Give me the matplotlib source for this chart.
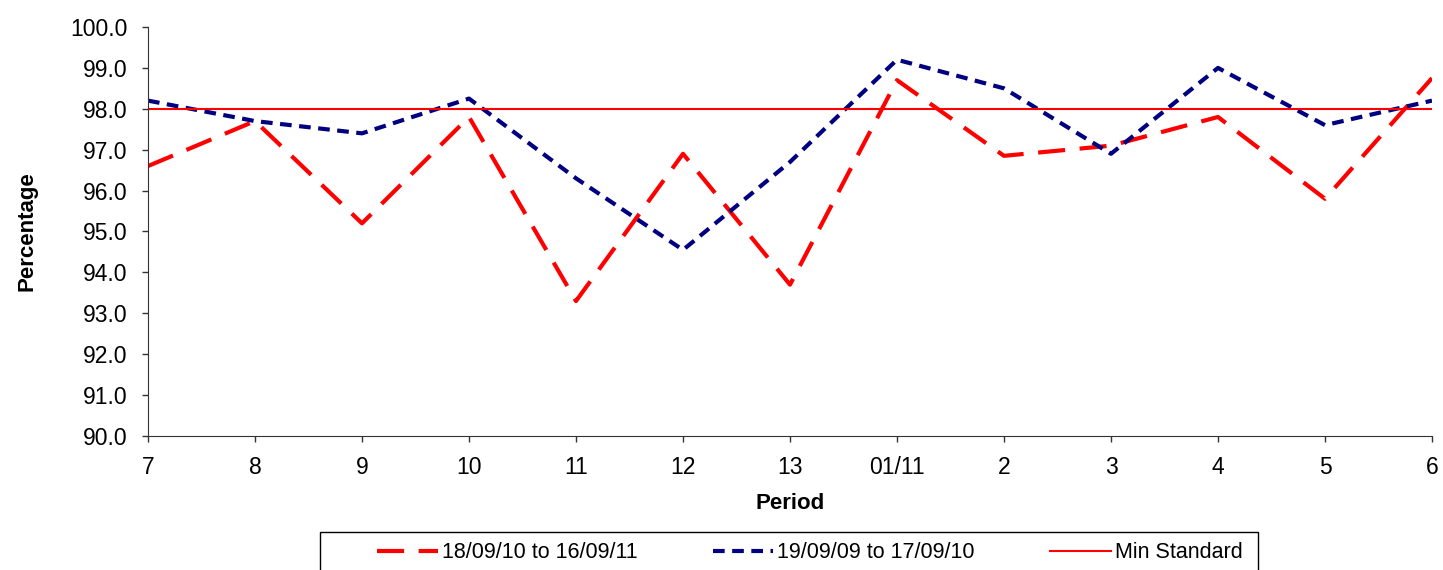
import numpy as np
import matplotlib.pyplot as plt
from matplotlib.patches import Rectangle

plt.rcParams['font.family'] = ['Liberation Sans', 'DejaVu Sans']

# Period labels and series values
periods = ['7', '8', '9', '10', '11', '12', '13', '01/11', '2', '3', '4', '5', '6']
current = [96.6, 97.7, 95.2, 97.8, 93.3, 96.9, 93.7, 98.7, 96.85, 97.1, 97.8, 95.8, 98.75]
previous = [98.2, 97.7, 97.4, 98.25, 96.3, 94.55, 96.7, 99.2, 98.5, 96.9, 99.0, 97.6, 98.2]
min_standard = 98.0

x = np.arange(len(periods))

fig = plt.figure(figsize=(14.43, 5.70), dpi=100)
ax = fig.add_axes([148 / 1443, 1 - 436 / 570, (1432 - 148) / 1443, (436 - 27) / 570])

ax.plot(x, current, color='#ff0000', lw=3, dashes=(6.5, 3.5), label='18/09/10 to 16/09/11')
ax.plot(x, previous, color='#000080', lw=3, dashes=(2.8, 1.8), label='19/09/09 to 17/09/10')
ax.axhline(min_standard, color='#ff0000', lw=1.5, label='Min Standard')

ax.set_xlim(0, len(periods) - 1)
ax.set_ylim(90, 100)
ax.set_xticks(x)
ax.set_xticklabels(periods)
yt = np.arange(90, 100.1, 1)
ax.set_yticks(yt)
ax.set_yticklabels([f'{v:.1f}' for v in yt])
ax.tick_params(labelsize=16.5, length=4.5, width=1, color='#333333', pad=10)

for s in ['top', 'right']:
    ax.spines[s].set_visible(False)
for s in ['left', 'bottom']:
    ax.spines[s].set_color('#333333')

ax.set_xlabel('Period', fontsize=16, fontweight='bold', labelpad=10)
ax.set_ylabel('Percentage', fontsize=16, fontweight='bold', labelpad=24)

# Legend below the chart, frame drawn separately (cut off at the bottom)
leg = fig.legend(loc='center', bbox_to_anchor=(810 / 1443, 1 - 553 / 570),
                 ncol=3, fontsize=15.5, frameon=False,
                 handlelength=2.8, handletextpad=0.2, columnspacing=3.5)
fig.patches.append(Rectangle((320 / 1443, -0.05), 938 / 1443, 0.05 + 1 - 532 / 570,
                             transform=fig.transFigure, fill=False,
                             edgecolor='black', linewidth=1))

fig.savefig('out.png', dpi=100)
